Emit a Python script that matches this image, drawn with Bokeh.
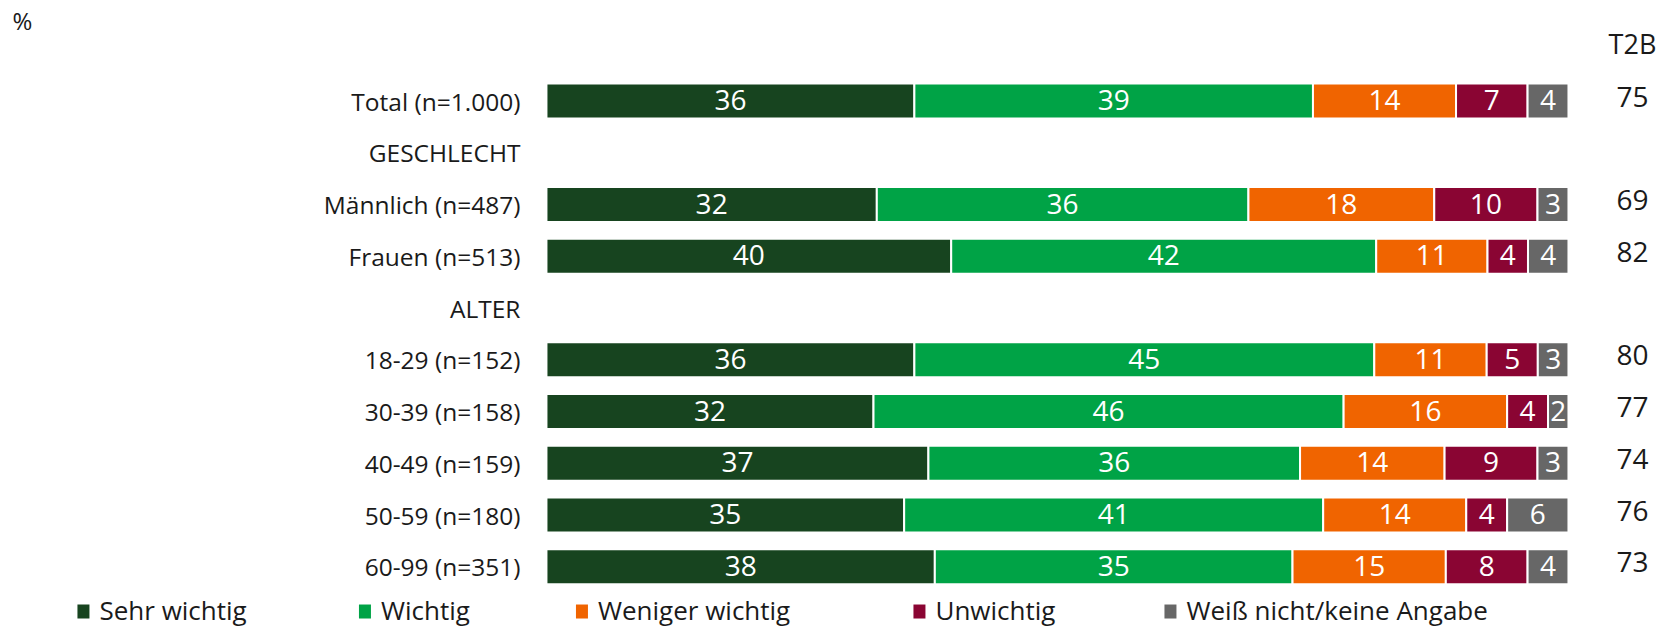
from bokeh.plotting import figure
from bokeh.models import ColumnDataSource, Range1d
from bokeh.core.properties import value
from bokeh.embed import file_html
from bokeh.resources import INLINE

# ---------------- data ----------------
row_labels = ["Total (n=1.000)", "GESCHLECHT", "Männlich (n=487)", "Frauen (n=513)",
              "ALTER", "18-29 (n=152)", "30-39 (n=158)", "40-49 (n=159)",
              "50-59 (n=180)", "60-99 (n=351)"]
categories = ["Total (n=1.000)", "Männlich (n=487)", "Frauen (n=513)", "18-29 (n=152)",
              "30-39 (n=158)", "40-49 (n=159)", "50-59 (n=180)", "60-99 (n=351)"]
series_names = ["Sehr wichtig", "Wichtig", "Weniger wichtig", "Unwichtig",
                "Weiß nicht/keine Angabe"]
sehr_wichtig = [36, 32, 40, 36, 32, 37, 35, 38]
wichtig = [39, 36, 42, 45, 46, 36, 41, 35]
weniger_wichtig = [14, 18, 11, 11, 16, 14, 14, 15]
unwichtig = [7, 10, 4, 5, 4, 9, 4, 8]
weiss_nicht = [4, 3, 4, 3, 2, 3, 6, 4]
t2b = [75, 69, 82, 80, 77, 74, 76, 73]

# ---------------- style / layout ----------------
colors = ["#17441f", "#00a346", "#f06400", "#8a0533", "#676767"]
FONT = "Open Sans"
TXT = "#1a1a1a"
PX_X = 10.22   # pixels per percent unit
PX_Y = 51.75   # pixels per row

p = figure(width=1658, height=628,
           x_range=Range1d(-53.42, 108.81), y_range=Range1d(-10.193, 1.942),
           output_backend="svg", toolbar_location=None, min_border=0,
           x_axis_location=None, y_axis_location=None)
p.grid.visible = False
p.outline_line_color = None
p.background_fill_color = "white"
p.border_fill_color = "white"

ypos = {lab: -i for i, lab in enumerate(row_labels)}

series = [sehr_wichtig, wichtig, weniger_wichtig, unwichtig, weiss_nicht]
n = len(categories)
totals = [sum(s[i] for s in series) for i in range(n)]
cum = [0.0] * n
for k, s in enumerate(series):
    left, right = [], []
    for i in range(n):
        share = s[i] * 100.0 / totals[i]
        left.append(cum[i])
        right.append(cum[i] + share)
        cum[i] += share
    src = ColumnDataSource(dict(
        y=[ypos[c] for c in categories], left=left, right=right,
        mid=[(a + b) / 2 for a, b in zip(left, right)],
        ty=[ypos[c] + 1 / PX_Y for c in categories],
        txt=[str(v) for v in s]))
    p.hbar(y="y", left="left", right="right", height=35 / PX_Y, source=src,
           fill_color=colors[k], line_color="white", line_width=2)
    p.text(x="mid", y="ty", text="txt", source=src, text_color="white",
           text_font=value(FONT), text_font_size="28px",
           text_align="center", text_baseline="middle")

# row labels
lab_src = ColumnDataSource(dict(x=[-26 / PX_X] * len(row_labels),
                                y=[ypos[l] for l in row_labels],
                                t=row_labels))
p.text(x="x", y="y", text="t", source=lab_src, text_color=TXT,
       text_font=value(FONT), text_font_size="24.5px",
       text_align="right", text_baseline="middle")

# T2B column
T2B_X = (1632 - 546) / PX_X
t2b_src = ColumnDataSource(dict(x=[T2B_X] * n,
                                y=[ypos[c] + 4.5 / PX_Y for c in categories],
                                t=[str(v) for v in t2b]))
p.text(x="x", y="y", text="t", source=t2b_src, text_color=TXT,
       text_font=value(FONT), text_font_size="28px",
       text_align="center", text_baseline="middle")
p.text(x=[T2B_X], y=[(100.5 - 43) / PX_Y], text=["T2B"], text_color=TXT,
       text_font=value(FONT), text_font_size="27px",
       text_align="center", text_baseline="middle")
p.text(x=[(12 - 546) / PX_X], y=[(100.5 - 20) / PX_Y], text=["%"], text_color=TXT,
       text_font=value(FONT), text_font_size="24px",
       text_align="left", text_baseline="middle")

# legend
legend_px = [83, 364.5, 581.5, 919, 1170]
legend_x = [(v - 546) / PX_X for v in legend_px]
text_y = -(609 - 100.5) / PX_Y
leg_src = ColumnDataSource(dict(x=legend_x, y=[-(611 - 100.5) / PX_Y] * 5, c=colors,
                                tx=[v + 16 / PX_X for v in legend_x],
                                ty=[text_y] * 5, t=series_names))
p.rect(x="x", y="y", width=12, height=14, width_units="screen",
       height_units="screen", fill_color="c", line_color=None, source=leg_src)
p.text(x="tx", y="ty", text="t", source=leg_src, text_color=TXT,
       text_font=value(FONT), text_font_size="26px",
       text_align="left", text_baseline="middle")

open("out.html", "w").write(file_html(p, INLINE))
